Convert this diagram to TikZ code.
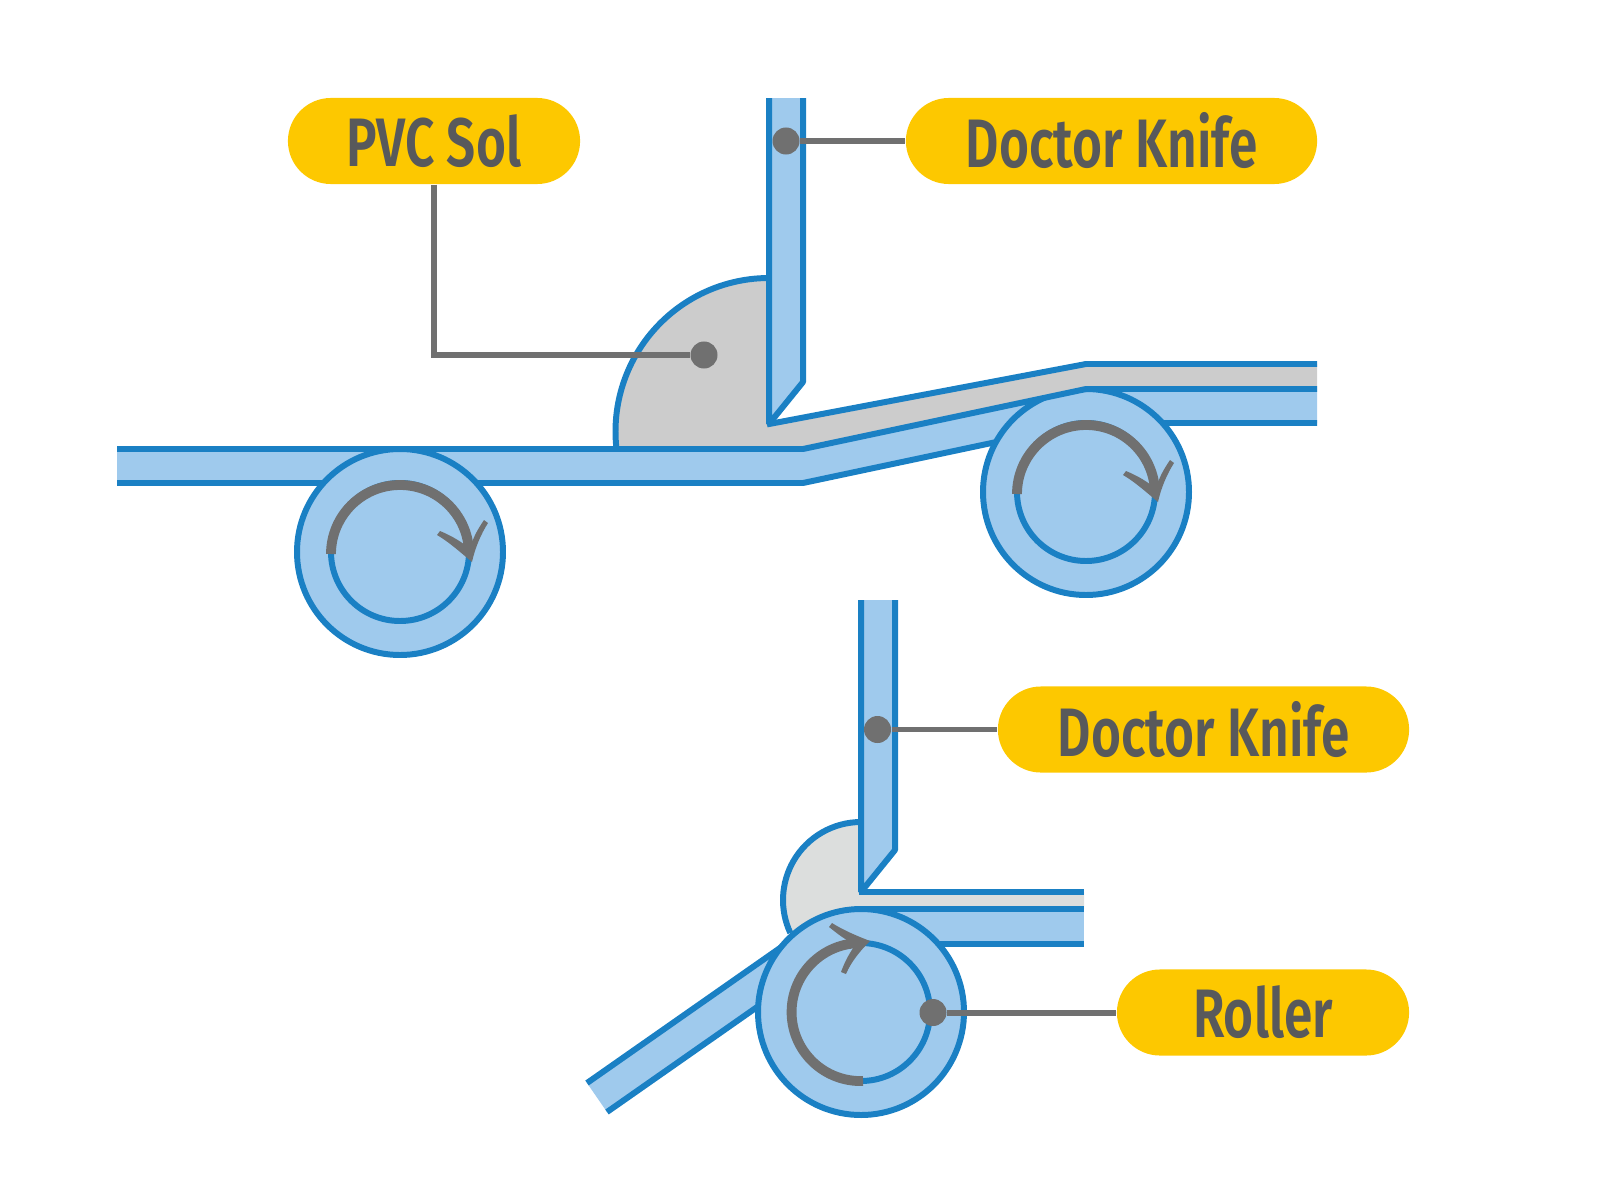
\documentclass[tikz,border=0pt]{standalone}
\usepackage{fontspec}
\setmainfont[FakeStretch=0.75]{Fira Sans SemiBold}
\usetikzlibrary{shapes.misc}
\definecolor{edgeblue}{HTML}{1A80C4}
\definecolor{fillblue}{HTML}{9FCAED}
\definecolor{solgray}{HTML}{CCCCCC}
\definecolor{solgraytwo}{HTML}{DCDEDD}
\definecolor{pillyellow}{HTML}{FDC800}
\definecolor{leadgray}{HTML}{707070}
\definecolor{textgray}{HTML}{58595B}
\tikzset{
 edge/.style={draw=edgeblue,line width=1.7pt,line join=miter},
 rollerbody/.style={edge,fill=fillblue},
 bladeshape/.style={edge,fill=fillblue,line join=bevel},
 leader/.style={draw=leadgray,line width=1.7pt},
 spin/.style={draw=leadgray,line width=2.8pt},
 tip/.style={fill=leadgray,draw=none},
 pill/.style={rounded rectangle,fill=pillyellow,text=textgray,minimum height=0.86cm,inner sep=0pt,font=\fontsize{19.5}{20}\selectfont},
 dot/.style={circle,fill=leadgray,minimum size=0.27cm,inner sep=0pt},
}
\begin{document}
\begin{tikzpicture}[x=0.01cm,y=-0.01cm]
\useasboundingbox (0,0) rectangle (1600,1200);
% ---------- upper figure: web and rollers
\fill[fillblue] (117,449) -- (803,449) -- (1086,389) -- (1317,389) -- (1317,423) -- (1086,423) -- (803,483) -- (117,483) -- cycle;
\draw[edge] (117,483) -- (803,483) -- (1086,423) -- (1317,423);
\draw[rollerbody] (400,552) circle[radius=103];
\draw[rollerbody] (1086,492) circle[radius=103];
\draw[edge] (400,552) circle[radius=69];
\draw[edge] (1086,492) circle[radius=69];
% sol over the roller tops
\fill[solgray] (769,278) arc[start angle=270,end angle=173,radius=153.5] -- (803,449) -- (1086,389) -- (1317,389) -- (1317,364) -- (1086,364) -- (769,424) -- cycle;
\draw[edge] (769,278) arc[start angle=270,end angle=173,radius=153.5];
\draw[edge] (767,424.4) -- (1086,364) -- (1317,364);
\draw[edge] (117,449) -- (803,449) -- (1086,389) -- (1317,389);
\draw[bladeshape] (769,98) -- (769,424) -- (803,382) -- (803,98);
\draw[spin] (1017,494) arc[start angle=180,end angle=358,radius=69];
\fill[tip] (1123,475) -- (1126,471) .. controls (1138,476) and (1148,482) .. (1156,489) .. controls (1159,477) and (1164,469) .. (1170,460) -- (1174,463) .. controls (1167,474) and (1161,488) .. (1158,502) .. controls (1146,492) and (1135,482) .. (1123,475) -- cycle;
\draw[spin] (331,554) arc[start angle=180,end angle=358,radius=69];
\begin{scope}[shift={(-686,60)}]
\fill[tip] (1123,475) -- (1126,471) .. controls (1138,476) and (1148,482) .. (1156,489) .. controls (1159,477) and (1164,469) .. (1170,460) -- (1174,463) .. controls (1167,474) and (1161,488) .. (1158,502) .. controls (1146,492) and (1135,482) .. (1123,475) -- cycle;
\end{scope}
% ---------- lower figure
\fill[solgraytwo] (861,822) arc[start angle=270,end angle=155,radius=78] -- (861,915) -- (1084,909) -- (1084,892) -- (861,892) -- cycle;
\draw[edge] (861,822) arc[start angle=270,end angle=155,radius=78];
\draw[edge] (859,892) -- (1084,892);
\draw[bladeshape] (861,600) -- (861,892) -- (895,850) -- (895,600);
\fill[fillblue] (861,909) rectangle (1084,944);
\draw[edge] (861,909) -- (1084,909);
\draw[edge] (861,944) -- (1084,944);
\fill[fillblue] (587,1083) -- (607,1112) -- (800,977) -- (800,934) -- cycle;
\draw[edge] (587,1083) -- (800,934);
\draw[edge] (607,1112) -- (800,977);
\draw[rollerbody] (861,1012) circle[radius=103];
\draw[edge] (861,1012) circle[radius=69];
\draw[spin] (863,1081) arc[start angle=88,end angle=268,radius=69];
\fill[tip] (829,927) -- (832,923) .. controls (843,930) and (857,936) .. (870,941) .. controls (860,951) and (851,962) .. (846,974) -- (841,972) .. controls (845,961) and (850,952) .. (856,944) .. controls (846,941) and (838,934) .. (829,927) -- cycle;
% ---------- labels
\node[pill,minimum width=2.92cm] (sol) at (434,141) {PVC Sol};
\node[pill,minimum width=4.11cm] (knifeA) at (1111.5,141) {Doctor Knife};
\node[pill,minimum width=4.11cm] (knifeB) at (1203.5,729.5) {Doctor Knife};
\node[pill,minimum width=2.92cm] (roller) at (1263,1012.5) {Roller};
\node[dot] (solDot) at (704,355) {};
\node[dot] (knifeADot) at (786,141) {};
\node[dot] (knifeBDot) at (877.5,729.5) {};
\node[dot] (rollerDot) at (933,1012.5) {};
\draw[leader] (sol.south) |- (solDot);
\draw[leader] (knifeADot) -- (knifeA);
\draw[leader] (knifeBDot) -- (knifeB);
\draw[leader] (rollerDot) -- (roller);
\end{tikzpicture}
\end{document}
